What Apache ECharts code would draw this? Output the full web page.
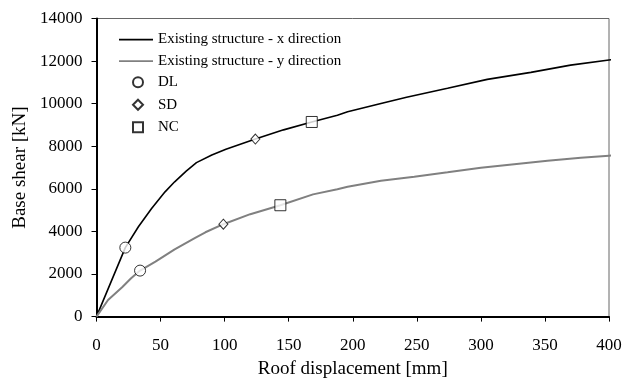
<!DOCTYPE html>
<html>
<head>
<meta charset="utf-8">
<script src="https://cdn.jsdelivr.net/npm/echarts@6/dist/echarts.min.js"></script>
<style>html,body{margin:0;padding:0;background:#fff}#c{width:630px;height:378px}</style>
</head>
<body>
<div id="c"></div>
<script>
// Pushover curves: roof displacement [mm] vs base shear [kN]
const xDirDisp  = [0, 22.5, 32.7, 43, 53.5, 61, 70, 78, 90, 101, 124, 146, 168, 188, 196, 222, 242, 274, 305, 339, 370, 400, 406];
const xDirShear = [0, 3240, 4220, 5080, 5860, 6330, 6830, 7230, 7590, 7860, 8340, 8770, 9140, 9460, 9620, 10010, 10300, 10720, 11140, 11470, 11810, 12050, 12090];
const yDirDisp  = [0, 9, 20, 27, 34, 46, 61, 77, 85, 99, 120, 143.5, 169, 188, 196, 222, 248, 274, 300, 326, 352, 378, 400, 406];
const yDirShear = [0, 780, 1380, 1800, 2160, 2580, 3160, 3700, 3960, 4340, 4810, 5230, 5740, 5980, 6100, 6380, 6570, 6775, 6990, 7160, 7320, 7460, 7555, 7575];
// Limit states [x-direction point, y-direction point]
const dlDisp = [22.5, 34],   dlShear = [3240, 2160];
const sdDisp = [124, 99],    sdShear = [8340, 4340];
const ncDisp = [168, 143.5], ncShear = [9140, 5230];
const lineNames = ['Existing structure - x direction', 'Existing structure - y direction'];
const limitNames = ['DL', 'SD', 'NC'];

const zip = (a, b) => a.map((v, i) => [v, b[i]]);
const FONT = 'Liberation Serif';
const markerStyle = { color: '#fff', borderColor: '#000', borderWidth: 1 };

const chart = echarts.init(document.getElementById('c'));
chart.setOption({
  animation: false,
  backgroundColor: '#fff',
  textStyle: { fontFamily: FONT },
  grid: { left: 96.5, right: 21, top: 18.5, bottom: 61.4, containLabel: false, outerBoundsMode: 'none',
          show: true, borderColor: '#666', borderWidth: 1 },
  legend: [
    {
      left: 119, top: 28.8, padding: 0, orient: 'vertical',
      itemWidth: 34, itemHeight: 1.8, itemGap: 0, icon: 'rect',
      textStyle: { fontFamily: FONT, fontSize: 15, color: '#000', lineHeight: 21.5 },
      data: lineNames
    },
    {
      left: 132, top: 71, padding: 0, orient: 'vertical',
      itemWidth: 10, itemHeight: 10, itemGap: 0,
      textStyle: { fontFamily: FONT, fontSize: 15, color: '#000', lineHeight: 22.5, padding: [0, 0, 0, 10] },
      data: limitNames
    }
  ],
  xAxis: {
    type: 'value', min: 0, max: 400, interval: 50,
    name: 'Roof displacement [mm]', nameLocation: 'middle', nameGap: 43,
    nameTextStyle: { fontFamily: FONT, fontSize: 19, color: '#000' },
    axisLine: { onZero: false, lineStyle: { color: '#000', width: 2 } },
    axisTick: { show: true, length: 5, lineStyle: { color: '#000', width: 1 } },
    axisLabel: { fontFamily: FONT, fontSize: 17, color: '#000', margin: 20, formatter: v => String(v) },
    splitLine: { show: false }
  },
  yAxis: {
    type: 'value', min: 0, max: 14000, interval: 2000,
    name: 'Base shear [kN]', nameLocation: 'middle', nameGap: 62,
    nameTextStyle: { fontFamily: FONT, fontSize: 19, color: '#000' },
    axisLine: { show: true, onZero: false, lineStyle: { color: '#000', width: 2 } },
    axisTick: { show: true, length: 5, lineStyle: { color: '#000', width: 1 } },
    axisLabel: { fontFamily: FONT, fontSize: 17, color: '#000', margin: 14, formatter: v => String(v) },
    splitLine: { show: false }
  },
  series: [
    { name: lineNames[0], type: 'line', data: zip(xDirDisp, xDirShear), symbol: 'none', clip: false, z: 2,
      lineStyle: { color: '#000', width: 1.6 }, itemStyle: { color: '#000' } },
    { name: lineNames[1], type: 'line', data: zip(yDirDisp, yDirShear), symbol: 'none', clip: false, z: 2,
      lineStyle: { color: '#808080', width: 2 }, itemStyle: { color: '#808080' } },
    { name: limitNames[0], type: 'scatter', data: zip(dlDisp, dlShear), symbol: 'circle', symbolSize: 11, z: 5, itemStyle: markerStyle },
    { name: limitNames[1], type: 'scatter', data: zip(sdDisp, sdShear), symbol: 'diamond', symbolSize: [9, 10], z: 5, itemStyle: markerStyle },
    { name: limitNames[2], type: 'scatter', data: zip(ncDisp, ncShear), symbol: 'rect', symbolSize: 11, z: 5, itemStyle: markerStyle }
  ]
});
</script>
</body>
</html>
